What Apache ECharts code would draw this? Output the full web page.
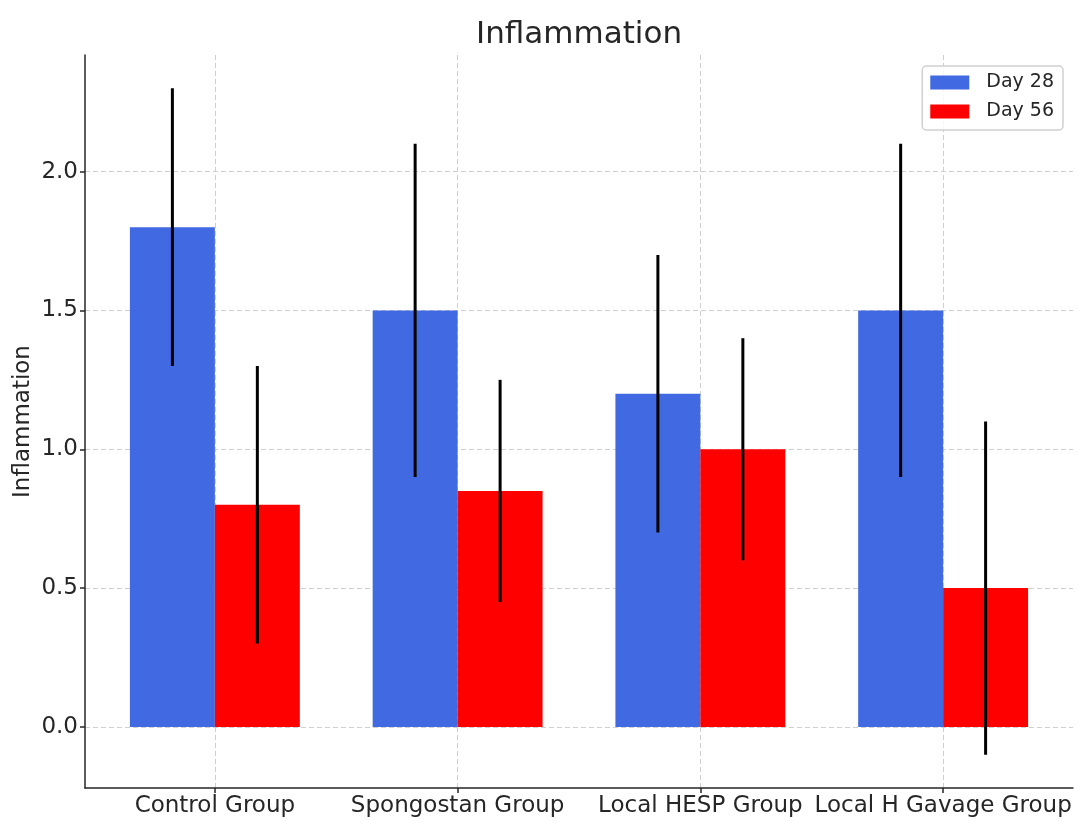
<!DOCTYPE html>
<html>
<head>
<meta charset="utf-8">
<script src="https://cdn.jsdelivr.net/npm/echarts@6/dist/echarts.min.js"></script>
<style>html,body{margin:0;padding:0;background:#fff;}#c{width:1079px;height:821px;}</style>
</head>
<body>
<div id="c"></div>
<script>
const categories = ['Control Group', 'Spongostan Group', 'Local HESP Group', 'Local H Gavage Group'];
const day28 = [1.8, 1.5, 1.2, 1.5];
const day28Err = [0.5, 0.6, 0.5, 0.6];
const day56 = [0.8, 0.85, 1.0, 0.5];
const day56Err = [0.5, 0.4, 0.4, 0.6];
const yTicks = [0, 0.5, 1.0, 1.5, 2.0];
const xTicks = [0, 1, 2, 3];

const BAR_W = 0.35;
const FONT = 'DejaVu Sans';
const TEXT = '#262626';

function barRender(offset, color) {
  return function (params, api) {
    const x = api.value(0) + offset;
    const y = api.value(1);
    const p0 = api.coord([x - BAR_W / 2, 0]);
    const p1 = api.coord([x + BAR_W / 2, y]);
    return {
      type: 'rect',
      shape: { x: p0[0], y: Math.min(p0[1], p1[1]), width: p1[0] - p0[0], height: Math.abs(p0[1] - p1[1]) },
      style: { fill: color }
    };
  };
}
function errRender(offset) {
  return function (params, api) {
    const x = api.value(0) + offset;
    const a = api.coord([x, api.value(1)]);
    const b = api.coord([x, api.value(2)]);
    return {
      type: 'line',
      shape: { x1: a[0], y1: a[1], x2: b[0], y2: b[1] },
      style: { stroke: '#000', lineWidth: 3 }
    };
  };
}

const d28 = day28.map((v, i) => [i, v]);
const d56 = day56.map((v, i) => [i, v]);
const e28 = day28.map((v, i) => [i, v - day28Err[i], v + day28Err[i]]);
const e56 = day56.map((v, i) => [i, v - day56Err[i], v + day56Err[i]]);

const chart = echarts.init(document.getElementById('c'), null, { renderer: 'canvas' });
chart.setOption({
  animation: false,
  backgroundColor: '#fff',
  textStyle: { fontFamily: FONT, color: TEXT },
  title: {
    text: 'Inflammation', left: 476, top: 19, padding: 0,
    textStyle: { fontFamily: FONT, fontSize: 31, fontWeight: 'normal', color: TEXT }
  },
  legend: {
    data: ['Day 28', 'Day 56'],
    orient: 'vertical', right: 16, top: 66,
    icon: 'rect', itemWidth: 39, itemHeight: 14, itemGap: 10,
    padding: [7, 9, 9, 8],
    borderColor: '#d0d0d0', borderWidth: 1.5, borderRadius: 4,
    backgroundColor: 'rgba(255,255,255,0.8)',
    textStyle: { fontFamily: FONT, fontSize: 19, color: TEXT, padding: [0, 0, 0, 12], lineHeight: 19 }
  },
  grid: { left: 85, right: 6, top: 55, bottom: 33, containLabel: false },
  xAxis: {
    type: 'value', min: -0.535, max: 3.535,
    axisLine: { show: true, onZero: false, lineStyle: { color: TEXT, width: 1.5 } },
    axisTick: { show: true, customValues: xTicks, length: 5, lineStyle: { color: TEXT, width: 1.5 } },
    axisLabel: {
      customValues: xTicks, fontFamily: FONT, fontSize: 23, color: TEXT, margin: 7,
      formatter: v => categories[Math.round(v)] || ''
    },
    splitLine: { show: true, lineStyle: { color: '#cfcfcf', type: [5, 3], width: 1 } }
  },
  yAxis: {
    type: 'value', min: -0.22, max: 2.42,
    name: 'Inflammation', nameLocation: 'middle', nameRotate: 90, nameGap: 50, nameMoveOverlap: false,
    nameTextStyle: { fontFamily: FONT, fontSize: 23, color: TEXT },
    axisLine: { show: true, onZero: false, lineStyle: { color: TEXT, width: 1.5 } },
    axisTick: { show: true, customValues: yTicks, length: 5, lineStyle: { color: TEXT, width: 1.5 } },
    axisLabel: {
      customValues: yTicks, fontFamily: FONT, fontSize: 23, color: TEXT, margin: 7,
      formatter: v => v.toFixed(1)
    },
    splitLine: { show: true, lineStyle: { color: '#cfcfcf', type: [5, 3], width: 1 } }
  },
  series: [
    { name: 'Day 28', type: 'custom', renderItem: barRender(-BAR_W / 2, '#4169E1'), itemStyle: { color: '#4169E1' }, data: d28, encode: { x: 0, y: 1 }, z: 2 },
    { name: 'Day 56', type: 'custom', renderItem: barRender(BAR_W / 2, '#FF0000'), itemStyle: { color: '#FF0000' }, data: d56, encode: { x: 0, y: 1 }, z: 2 },
    { name: 'err28', type: 'custom', renderItem: errRender(-BAR_W / 2), data: e28, encode: { x: 0, y: [1, 2] }, z: 3 },
    { name: 'err56', type: 'custom', renderItem: errRender(BAR_W / 2), data: e56, encode: { x: 0, y: [1, 2] }, z: 3 }
  ]
});
</script>
</body>
</html>
